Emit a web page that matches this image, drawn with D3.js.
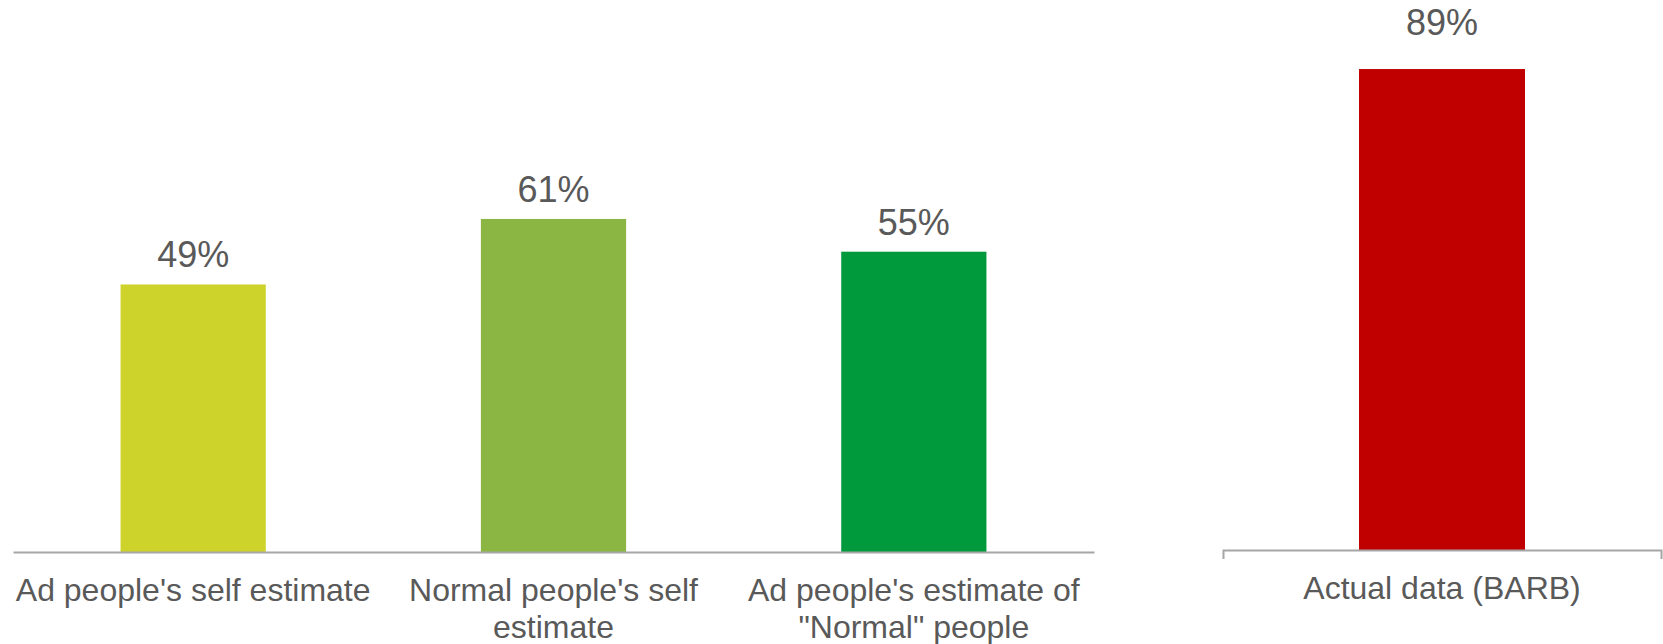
<!DOCTYPE html>
<html>
<head>
<meta charset="utf-8">
<script src="https://cdn.jsdelivr.net/npm/d3@7"></script>
<style>
  html, body { margin: 0; padding: 0; background: #ffffff; }
  svg { display: block; }
  text { font-family: "Liberation Sans", Arial, Helvetica, sans-serif; fill: #595959; }
</style>
</head>
<body>
<svg id="chart" width="1663" height="644"></svg>
<script>
// Share of TV viewing: estimates versus the measured figure
const estimateCategories = [
  "Ad people's self estimate",
  "Normal people's self estimate",
  "Ad people's estimate of \"Normal\" people"
];
const estimateValues = [49, 61, 55];

const actualCategories = ["Actual data (BARB)"];
const actualValues = [89];

const estimateColors = ["#CDD32A", "#8BB643", "#009A3D"];
const actualColor = "#C00000";

const svg = d3.select("#chart");
const fmt = v => d3.format(".0f")(v) + "%";

// Break a category label into lines no wider than the band step
function wrap(textSel, width, lineHeight) {
  textSel.each(function () {
    const text = d3.select(this);
    const words = text.text().split(/\s+/);
    const y = +text.attr("y");
    text.text(null);
    let line = [];
    let lineNo = 0;
    let tspan = text.append("tspan").attr("x", 0).attr("y", y);
    for (const w of words) {
      line.push(w);
      tspan.text(line.join(" "));
      if (tspan.node().getComputedTextLength() > width && line.length > 1) {
        line.pop();
        tspan.text(line.join(" "));
        line = [w];
        lineNo++;
        tspan = text.append("tspan").attr("x", 0)
          .attr("y", y + lineNo * lineHeight).text(w);
      }
    }
  });
}

function drawPanel(cfg) {
  const x = d3.scaleBand()
    .domain(cfg.categories)
    .range(cfg.xRange)
    .paddingInner(cfg.padInner)
    .paddingOuter(cfg.padOuter);
  const y = d3.scaleLinear().domain([0, 100]).range(cfg.yRange);

  const g = svg.append("g");

  g.selectAll("rect.bar")
    .data(cfg.values)
    .join("rect")
    .attr("class", "bar")
    .attr("x", (d, i) => x(cfg.categories[i]))
    .attr("width", x.bandwidth())
    .attr("y", d => y(d))
    .attr("height", d => y(0) - y(d))
    .attr("fill", (d, i) => cfg.colors[i]);

  g.selectAll("text.value")
    .data(cfg.values)
    .join("text")
    .attr("class", "value")
    .attr("x", (d, i) => x(cfg.categories[i]) + x.bandwidth() / 2)
    .attr("y", d => y(d) - cfg.labelGap)
    .attr("text-anchor", "middle")
    .style("font-size", "36px")
    .text(fmt);

  const axis = d3.axisBottom(x)
    .tickSize(0)
    .tickSizeOuter(cfg.outerTick)
    .tickPadding(0);

  const ax = g.append("g")
    .attr("transform", `translate(0,${y(0)})`)
    .call(axis);

  ax.select(".domain")
    .attr("stroke", "#A6A6A6")
    .attr("stroke-width", 2)
    .attr("fill", "none");
  ax.selectAll(".tick line").remove();
  ax.selectAll(".tick text")
    .attr("y", cfg.labelOffset)
    .attr("dy", null)
    .style("font-size", "32px")
    .style("fill", "#595959")
    .call(wrap, x.step(), 37.5);
}

drawPanel({
  categories: estimateCategories,
  values: estimateValues,
  colors: estimateColors,
  xRange: [13, 1094],
  yRange: [552, 6],
  padInner: 0.597,
  padOuter: 0.2985,
  outerTick: 0,
  labelGap: 17,
  labelOffset: 48.5
});

drawPanel({
  categories: actualCategories,
  values: actualValues,
  colors: [actualColor],
  xRange: [1223, 1661],
  yRange: [550, 9.6],
  padInner: 0.621,
  padOuter: 0.3105,
  outerTick: 9,
  labelGap: 34,
  labelOffset: 49
});
</script>
</body>
</html>
